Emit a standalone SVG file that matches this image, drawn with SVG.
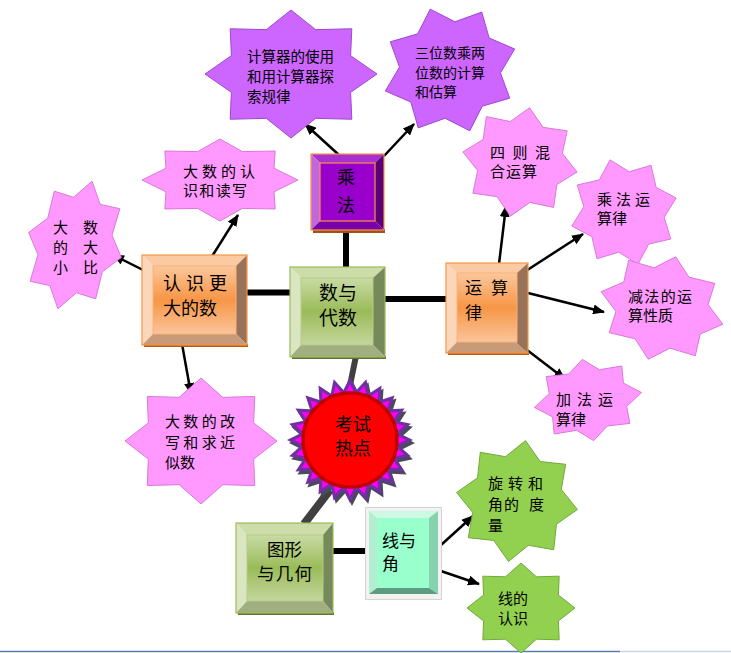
<svg xmlns="http://www.w3.org/2000/svg" xmlns:xlink="http://www.w3.org/1999/xlink" width="731" height="653" viewBox="0 0 731 653">
<style>
.t{font-family:"Noto Sans CJK SC","Noto Sans CJK JP",sans-serif;fill:#000}
.pink{fill:#FF99FF;stroke:#D878D8;stroke-width:1}
.purp{fill:#CC66FF;stroke:#9E48CC;stroke-width:1}
.green{fill:#92D050;stroke:#72A83C;stroke-width:1}
.arrow{stroke:#000;stroke-width:2.5;fill:none;marker-end:url(#ah)}
.thick{stroke:#000;stroke-width:6;fill:none}
.gray{stroke:#404040;fill:none}
</style>
<defs>
<marker id="ah" markerUnits="userSpaceOnUse" markerWidth="12" markerHeight="10" refX="11" refY="5" orient="auto">
<path d="M0,0 L12,5 L0,10 Z" fill="#000"/>
</marker>
<path id="s8" vector-effect="non-scaling-stroke" d="M0,-100 L28.7,-69.3 L70.7,-70.7 L69.3,-28.7 L100,0 L69.3,28.7 L70.7,70.7 L28.7,69.3 L0,100 L-28.7,69.3 L-70.7,70.7 L-69.3,28.7 L-100,0 L-69.3,-28.7 L-70.7,-70.7 L-28.7,-69.3 Z"/>
<polygon id="burst" points="100,0 79.3,10.4 96.6,25.9 73.9,30.6 86.6,50 63.5,48.7 70.7,70.7 48.7,63.5 50,86.6 30.6,73.9 25.9,96.6 10.4,79.3 0,100 -10.4,79.3 -25.9,96.6 -30.6,73.9 -50,86.6 -48.7,63.5 -70.7,70.7 -63.5,48.7 -86.6,50 -73.9,30.6 -96.6,25.9 -79.3,10.4 -100,0 -79.3,-10.4 -96.6,-25.9 -73.9,-30.6 -86.6,-50 -63.5,-48.7 -70.7,-70.7 -48.7,-63.5 -50,-86.6 -30.6,-73.9 -25.9,-96.6 -10.4,-79.3 0,-100 10.4,-79.3 25.9,-96.6 30.6,-73.9 50,-86.6 48.7,-63.5 70.7,-70.7 63.5,-48.7 86.6,-50 73.9,-30.6 96.6,-25.9 79.3,-10.4"/>
<linearGradient id="gOr" x1="0" y1="0" x2="0" y2="1">
<stop offset="0" stop-color="#FBC79C"/><stop offset="0.5" stop-color="#F79646"/><stop offset="1" stop-color="#FAC49A"/>
</linearGradient>
<linearGradient id="gGr" x1="0" y1="0" x2="0" y2="1">
<stop offset="0" stop-color="#C8DBA4"/><stop offset="0.5" stop-color="#9BBB59"/><stop offset="1" stop-color="#C4D79E"/>
</linearGradient>
</defs>

<rect width="731" height="653" fill="#fff"/>
<line x1="0" y1="651.5" x2="620" y2="651.5" stroke="#5A7DA8" stroke-width="1.5"/>
<line x1="620" y1="651.5" x2="731" y2="651.5" stroke="#C8D6E8" stroke-width="1.5"/>

<g id="connectors">
<line class="thick" x1="346" y1="231" x2="346" y2="268"/>
<line class="thick" x1="246" y1="292.5" x2="291" y2="292.5"/>
<line class="thick" x1="384" y1="299" x2="447" y2="299"/>
<line class="thick" x1="332" y1="551" x2="367" y2="551"/>
<line class="gray" stroke-width="6" x1="356" y1="356" x2="348" y2="395"/>
<line class="gray" stroke-width="8" x1="330" y1="490" x2="304" y2="524"/>
<line class="arrow" x1="339" y1="155" x2="305" y2="124"/>
<line class="arrow" x1="384" y1="156" x2="414" y2="124"/>
<line class="arrow" x1="211" y1="258" x2="238" y2="215"/>
<line class="arrow" x1="163" y1="280" x2="113" y2="255"/>
<line class="arrow" x1="182" y1="344" x2="191" y2="394"/>
<line class="arrow" x1="499" y1="264" x2="506" y2="206"/>
<line class="arrow" x1="515" y1="278" x2="583" y2="234"/>
<line class="arrow" x1="528" y1="293" x2="604" y2="312"/>
<line class="arrow" x1="514" y1="340" x2="565" y2="379"/>
<line class="arrow" x1="441" y1="545" x2="473" y2="516"/>
<line class="arrow" x1="438" y1="570" x2="479" y2="584"/>
</g>

<g id="n-calc">
<use xlink:href="#s8" href="#s8" class="purp" transform="translate(291 74) scale(0.86 0.64)"/>
<text class="t" font-size="14.5" x="247" y="62">计算器的使用</text>
<text class="t" font-size="14.5" x="247" y="82">和用计算器探</text>
<text class="t" font-size="14.5" x="247" y="102">索规律</text>
</g>

<g id="n-three">
<use xlink:href="#s8" href="#s8" class="purp" transform="translate(450 70) rotate(-18) scale(0.68 0.64)"/>
<text class="t" font-size="14" x="415" y="58">三位数乘两</text>
<text class="t" font-size="14" x="415" y="78">位数的计算</text>
<text class="t" font-size="14" x="415" y="97">和估算</text>
</g>

<g id="n-read">
<use xlink:href="#s8" href="#s8" class="pink" transform="translate(220 180) scale(0.78 0.41)"/>
<text class="t" font-size="15" x="183" y="177" textLength="72" lengthAdjust="spacing">大数的认</text>
<text class="t" font-size="15" x="183" y="196" textLength="64" lengthAdjust="spacing">识和读写</text>
</g>

<g id="n-compare">
<use xlink:href="#s8" href="#s8" class="pink" transform="translate(75 245) rotate(15) scale(0.48 0.66)"/>
<text class="t" font-size="15" y="233"><tspan x="53">大</tspan><tspan x="83">数</tspan></text>
<text class="t" font-size="15" y="253"><tspan x="53">的</tspan><tspan x="83">大</tspan></text>
<text class="t" font-size="15" y="273"><tspan x="53">小</tspan><tspan x="83">比</tspan></text>
</g>

<g id="n-approx">
<use xlink:href="#s8" href="#s8" class="pink" transform="translate(201 441) scale(0.76 0.63)"/>
<text class="t" font-size="15" x="165" y="427" textLength="70" lengthAdjust="spacing">大数的改</text>
<text class="t" font-size="15" x="165" y="448" textLength="70" lengthAdjust="spacing">写和求近</text>
<text class="t" font-size="15" x="165" y="468">似数</text>
</g>

<g id="n-mix">
<use xlink:href="#s8" href="#s8" class="pink" transform="translate(520 162) rotate(10) scale(0.58 0.55)"/>
<text class="t" font-size="15" x="490" y="158" textLength="60" lengthAdjust="spacing">四则混</text>
<text class="t" font-size="15" x="490" y="177" textLength="47" lengthAdjust="spacing">合运算</text>
</g>

<g id="n-mullaw">
<use xlink:href="#s8" href="#s8" class="pink" transform="translate(624 212) rotate(-15) scale(0.54 0.54)"/>
<text class="t" font-size="15" x="597" y="205" textLength="53" lengthAdjust="spacing">乘法运</text>
<text class="t" font-size="15" x="597" y="224">算律</text>
</g>

<g id="n-sub">
<use xlink:href="#s8" href="#s8" class="pink" transform="translate(662 308) rotate(15) scale(0.63 0.53)"/>
<text class="t" font-size="15" x="628" y="302" textLength="64" lengthAdjust="spacing">减法的运</text>
<text class="t" font-size="15" x="628" y="321">算性质</text>
</g>

<g id="n-add">
<use xlink:href="#s8" href="#s8" class="pink" transform="translate(588 400) rotate(-8) scale(0.54 0.41)"/>
<text class="t" font-size="15" x="556" y="405" textLength="57" lengthAdjust="spacing">加法运</text>
<text class="t" font-size="15" x="556" y="425">算律</text>
</g>

<g id="n-rot">
<use xlink:href="#s8" href="#s8" class="green" transform="translate(517 501) rotate(8) scale(0.61 0.61)"/>
<text class="t" font-size="15" y="489"><tspan x="488">旋</tspan><tspan x="508">转</tspan><tspan x="528">和</tspan></text>
<text class="t" font-size="15" y="510"><tspan x="488">角</tspan><tspan x="504">的</tspan><tspan x="529">度</tspan></text>
<text class="t" font-size="15" x="488" y="531">量</text>
</g>

<g id="n-line">
<use xlink:href="#s8" href="#s8" class="green" transform="translate(521 608) scale(0.54 0.45)"/>
<text class="t" font-size="15" x="498" y="604">线的</text>
<text class="t" font-size="15" x="498" y="624">认识</text>
</g>

<g id="n-mul">
<rect x="313" y="229" width="72" height="4" fill="#A0501C"/>
<polygon points="311,154 384,154 375,163 320,163" fill="#A830D0"/>
<polygon points="311,154 320,163 320,221 311,230" fill="#C266E0"/>
<polygon points="384,154 384,230 375,221 375,163" fill="#5C0078"/>
<polygon points="311,230 320,221 375,221 384,230" fill="#7A00A8"/>
<rect x="320" y="163" width="55" height="58" fill="#9900CC" stroke="#F79646" stroke-width="1.2"/>
<rect x="311" y="154" width="73" height="76" fill="none" stroke="#F79646" stroke-width="1.2"/>
<text class="t" font-size="18" x="346" y="184" text-anchor="middle" fill="#200030">乘</text>
<text class="t" font-size="18" x="346" y="212" text-anchor="middle" fill="#200030">法</text>
</g>

<g id="n-big">
<rect x="144" y="344" width="104" height="3" fill="#B85A10"/>
<polygon points="142,255 247,255 236,266 153,266" fill="#FBC9A2"/>
<polygon points="142,255 153,266 153,334 142,345" fill="#FCD6B8"/>
<polygon points="247,255 247,345 236,334 236,266" fill="#98735A"/>
<polygon points="142,345 153,334 236,334 247,345" fill="#C89A78"/>
<rect x="153" y="266" width="83" height="68" fill="url(#gOr)" stroke="#FAB27A" stroke-width="1"/>
<rect x="142" y="255" width="105" height="90" fill="none" stroke="#F79646" stroke-width="1.2"/>
<text class="t" font-size="18" x="163" y="290" textLength="64" lengthAdjust="spacing">认识更</text>
<text class="t" font-size="18" x="163" y="315">大的数</text>
</g>

<g id="n-alg">
<rect x="292" y="356" width="94" height="3" fill="#5F7436"/>
<polygon points="290,267 385,267 373,278 301,278" fill="#CCDDAA"/>
<polygon points="290,267 301,278 301,345 290,357" fill="#DAE6C2"/>
<polygon points="385,267 385,357 373,345 373,278" fill="#76895A"/>
<polygon points="290,357 301,345 373,345 385,357" fill="#A0AF80"/>
<rect x="301" y="278" width="72" height="67" fill="url(#gGr)" stroke="#B5CC84" stroke-width="1"/>
<rect x="290" y="267" width="95" height="90" fill="none" stroke="#9BBB59" stroke-width="1.2"/>
<text class="t" font-size="19" x="319" y="300">数与</text>
<text class="t" font-size="19" x="319" y="325">代数</text>
</g>

<g id="n-law">
<rect x="448" y="352" width="81" height="3" fill="#B85A10"/>
<polygon points="446,263 528,263 517,273 457,273" fill="#FBC9A2"/>
<polygon points="446,263 457,273 457,342 446,353" fill="#FCD6B8"/>
<polygon points="528,263 528,353 517,342 517,273" fill="#98735A"/>
<polygon points="446,353 457,342 517,342 528,353" fill="#C89A78"/>
<rect x="457" y="273" width="60" height="69" fill="url(#gOr)" stroke="#FAB27A" stroke-width="1"/>
<rect x="446" y="263" width="82" height="90" fill="none" stroke="#F79646" stroke-width="1.2"/>
<text class="t" font-size="17" x="465" y="294" textLength="43" lengthAdjust="spacing">运算</text>
<text class="t" font-size="17" x="465" y="319">律</text>
</g>

<g id="n-hot">
<use xlink:href="#burst" href="#burst" fill="#4A4A5A" transform="translate(352 443) scale(0.63)"/>
<use xlink:href="#burst" href="#burst" fill="#7030A0" transform="translate(350 440) scale(0.63)"/>
<use xlink:href="#burst" href="#burst" fill="#FF00FF" transform="translate(350 440) scale(0.56)"/>
<circle cx="350" cy="440" r="47" fill="#FF0000" stroke="#C00000" stroke-width="3.5"/>
<text class="t" font-size="18" x="335" y="431">考试</text>
<text class="t" font-size="18" x="335" y="455">热点</text>
</g>

<g id="n-geo">
<rect x="238" y="612" width="96" height="3" fill="#5F7436"/>
<polygon points="236,523 333,523 323,535 247,535" fill="#CCDDAA"/>
<polygon points="236,523 247,535 247,601 236,613" fill="#DAE6C2"/>
<polygon points="333,523 333,613 323,601 323,535" fill="#76895A"/>
<polygon points="236,613 247,601 323,601 333,613" fill="#A0AF80"/>
<rect x="247" y="535" width="76" height="66" fill="url(#gGr)" stroke="#B5CC84" stroke-width="1"/>
<rect x="236" y="523" width="97" height="90" fill="none" stroke="#9BBB59" stroke-width="1.2"/>
<text class="t" font-size="17.5" x="267" y="556">图形</text>
<text class="t" font-size="17.5" x="257" y="580" textLength="55" lengthAdjust="spacing">与几何</text>
</g>

<g id="n-angle">
<rect x="365.5" y="507.5" width="76" height="92" fill="#F2F2F2" stroke="#D4D4D4" stroke-width="1"/>
<polygon points="369,511 438,511 429,518 377,518" fill="#CCF8E4"/>
<polygon points="369,511 377,518 377,588 369,594" fill="#B4EED2"/>
<polygon points="438,511 438,594 429,588 429,518" fill="#86D2AE"/>
<polygon points="369,594 377,588 429,588 438,594" fill="#5E9C82"/>
<rect x="377" y="518" width="52" height="70" fill="#99FFCC"/>
<text class="t" font-size="17" x="382" y="547">线与</text>
<text class="t" font-size="17" x="382" y="570">角</text>
</g>
</svg>
